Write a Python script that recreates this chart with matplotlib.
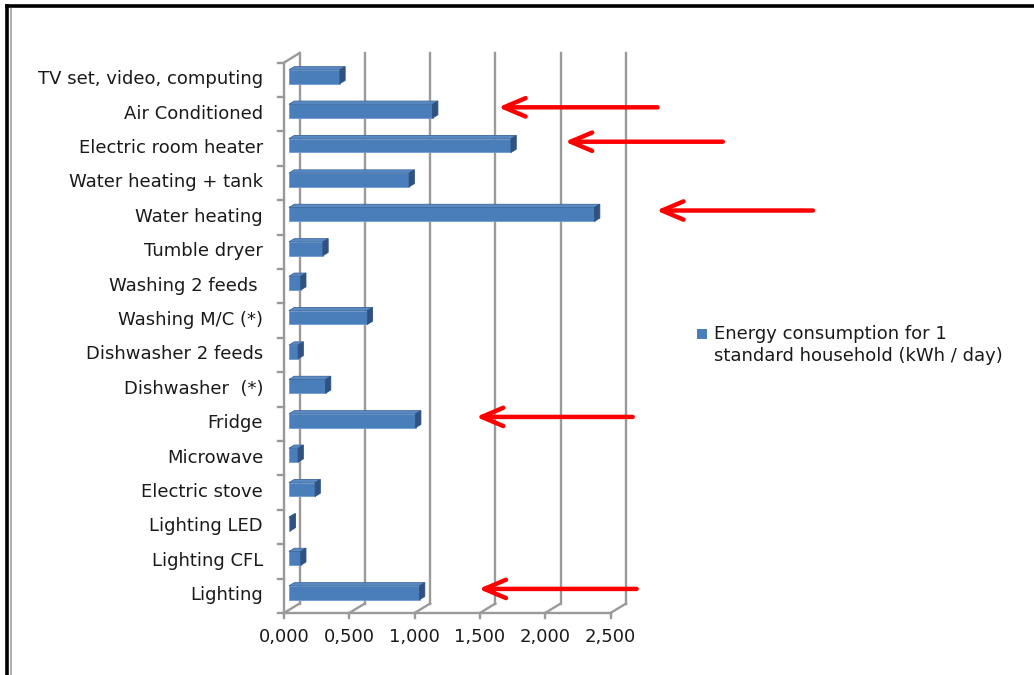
import matplotlib
matplotlib.use("Agg")
import matplotlib.pyplot as plt
from matplotlib.patches import Polygon, Rectangle
from matplotlib.lines import Line2D

# Appliances, listed bottom to top
categories = [
    "Lighting", "Lighting CFL", "Lighting LED", "Electric stove", "Microwave",
    "Fridge", "Dishwasher  (*)", "Dishwasher 2 feeds", "Washing M/C (*)",
    "Washing 2 feeds ", "Tumble dryer", "Water heating", "Water heating + tank",
    "Electric room heater", "Air Conditioned", "TV set, video, computing",
]
# Energy consumption for 1 standard household (kWh / day)
values = [1.00, 0.09, 0.01, 0.20, 0.07, 0.97, 0.28, 0.07, 0.60, 0.09,
          0.26, 2.34, 0.92, 1.70, 1.10, 0.39]
x_ticks = [0.0, 0.5, 1.0, 1.5, 2.0, 2.5]
x_tick_labels = ["0,000", "0,500", "1,000", "1,500", "2,000", "2,500"]
series_label = "Energy consumption for 1\nstandard household (kWh / day)"
# Highlighted appliances: (category, arrow tip value, arrow tail value)
highlights = [
    ("Air Conditioned", 1.64, 2.86),
    ("Electric room heater", 2.15, 3.36),
    ("Water heating", 2.85, 4.05),
    ("Fridge", 1.47, 2.67),
    ("Lighting", 1.49, 2.70),
]

plt.rcParams["font.family"] = ["DejaVu Sans"]
FS = 13.0
TXT_C = "#1a1a1a"
W, H = 1034, 675
fig = plt.figure(figsize=(W / 100, H / 100), dpi=100)
fig.patch.set_facecolor("white")

# One axes over the whole canvas; the front plane of the 3-D box is
# x = value, y = category index (floor at -0.5, ceiling at n - 0.5)
ax = fig.add_axes([0, 0, 1, 1])
PX_PER_UNIT = 130.6
PX_PER_CAT = 34.4
X0_PX, FLOOR_PX = 284, 613
ax.set_xlim(-X0_PX / PX_PER_UNIT, (W - X0_PX) / PX_PER_UNIT)
ax.set_ylim(-(H - FLOOR_PX) / PX_PER_CAT - 0.5, FLOOR_PX / PX_PER_CAT - 0.5)
ax.axis("off")

n = len(categories)
DX = 15.5 / PX_PER_UNIT   # depth offset of the back wall
DY = 9.5 / PX_PER_CAT
floor, ceil = -0.5, n - 0.5
grid_c = "#9a9a9a"
glw = 1.7

# back wall gridlines and floor diagonals
for v, lab in zip(x_ticks, x_tick_labels):
    ax.add_line(Line2D([v + DX, v + DX], [floor + DY, ceil + DY], color=grid_c, lw=glw, zorder=1))
    ax.add_line(Line2D([v, v + DX], [floor, floor + DY], color=grid_c, lw=glw, zorder=1))
    ax.add_line(Line2D([v, v], [floor, floor - 0.15], color=grid_c, lw=glw, zorder=1))
    ax.text(v, floor - 0.70, lab, ha="center", va="center", fontsize=FS, color=TXT_C)
# front floor edge and left wall edges
ax.add_line(Line2D([0, x_ticks[-1]], [floor, floor], color=grid_c, lw=glw, zorder=1))
ax.add_line(Line2D([0, 0], [floor, ceil], color=grid_c, lw=glw, zorder=1))
ax.add_line(Line2D([0, DX], [ceil, ceil + DY], color=grid_c, lw=glw, zorder=1))
for k in range(n + 1):
    ax.add_line(Line2D([-0.045, 0], [floor + k, floor + k], color=grid_c, lw=glw, zorder=1))

# 3-D bars: front face via barh, plus top and side faces
d0, d1 = 0.32, 0.66
h = 0.40
front_c, top_c, side_c = "#4a7ebb", "#5a8ac4", "#2f5283"
ys = [i + d0 * DY for i in range(n)]
ax.barh(ys, values, height=h, left=d0 * DX, color=front_c,
        edgecolor="#6f9bd1", linewidth=0.6, zorder=3)
ddx, ddy = (d1 - d0) * DX, (d1 - d0) * DY
for y, v in zip(ys, values):
    x0 = d0 * DX
    yt, yb = y + h / 2, y - h / 2
    ax.add_patch(Polygon([(x0, yt), (x0 + v, yt), (x0 + v + ddx, yt + ddy), (x0 + ddx, yt + ddy)],
                         closed=True, facecolor=top_c, edgecolor="#3d6699", lw=0.6, zorder=4))
    ax.add_patch(Polygon([(x0 + v, yb), (x0 + v, yt), (x0 + v + ddx, yt + ddy), (x0 + v + ddx, yb + ddy)],
                         closed=True, facecolor=side_c, edgecolor=side_c, lw=0.6, zorder=4))

# category labels
for i, name in enumerate(categories):
    ax.text(-0.16, i + 0.02, name, ha="right", va="center", fontsize=FS, color=TXT_C)

# red arrows pointing at the largest consumers
for name, tip, tail in highlights:
    y = categories.index(name) + 0.2
    ax.annotate("", xy=(tip, y), xytext=(tail, y),
                arrowprops=dict(arrowstyle="->,head_length=1.3,head_width=0.55",
                                mutation_scale=12, color="#ff0000", lw=3.2,
                                shrinkA=0, shrinkB=0),
                zorder=6, annotation_clip=False)

# legend
def fx(px):
    return px / W

def fy(py):
    return 1 - py / H

fig.patches.append(Rectangle((fx(697), fy(339)), 10 / W, 10 / H, transform=fig.transFigure,
                             facecolor=front_c, edgecolor="none"))
fig.text(fx(714), fy(345), series_label, ha="left", va="center", fontsize=FS,
         color=TXT_C, linespacing=1.35)

# page frame
fig.add_artist(Line2D([fx(7), 1], [fy(6), fy(6)], transform=fig.transFigure, color="black", lw=2.6))
fig.add_artist(Line2D([fx(7), fx(7)], [fy(6), 0], transform=fig.transFigure, color="black", lw=2.6))
fig.add_artist(Line2D([fx(10.5), fx(10.5)], [fy(9), 0], transform=fig.transFigure, color="#b0b0b0", lw=1.5))

fig.savefig("out.png", dpi=100, facecolor="white")
